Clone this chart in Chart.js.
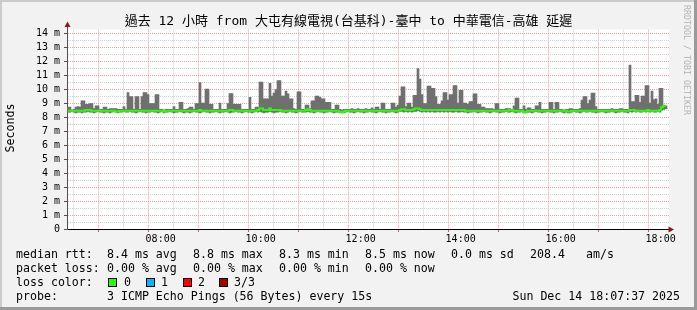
<!DOCTYPE html>
<html>
<head>
<meta charset="utf-8">
<script src="https://cdn.jsdelivr.net/npm/chart.js@4/dist/chart.umd.min.js"></script>
<style>
html,body{margin:0;padding:0;background:#f2f2f2;}
body{width:697px;height:310px;overflow:hidden;}
#frame{position:relative;width:697px;height:310px;background:#f2f2f2;overflow:hidden;}
#shadeT{position:absolute;left:0;top:0;width:697px;height:2px;background:#cbcbcb;}
#shadeL{position:absolute;left:0;top:0;width:2px;height:310px;background:#cbcbcb;}
#shadeR{position:absolute;right:0;top:0;width:3px;height:310px;background:#9a9a9a;}
#shadeB{position:absolute;left:0;bottom:0;width:697px;height:3px;background:#9a9a9a;}
canvas{position:absolute;left:0;top:0;}
.t{position:absolute;font-family:"DejaVu Sans Mono",monospace;font-size:11.6px;line-height:14px;white-space:pre;color:#000;}
#title{position:absolute;left:0;top:13px;width:697px;text-align:center;font-family:"DejaVu Sans Mono","Noto Sans CJK TC",monospace;font-size:13px;line-height:16px;white-space:pre;color:#000;}
#ylab{position:absolute;left:-20px;top:121px;width:60px;height:14px;text-align:center;transform:rotate(-90deg);font-family:"DejaVu Sans Mono",monospace;font-size:11.6px;line-height:14px;color:#000;}
#rrd{position:absolute;left:627px;top:55px;width:120px;height:10px;text-align:center;transform-origin:60px 5px;transform:rotate(90deg);font-family:"DejaVu Sans Mono",monospace;font-size:8.3px;line-height:10px;color:#b4b4b4;white-space:pre;}
.box{position:absolute;width:9px;height:9px;box-sizing:border-box;border:1px solid #000;}
</style>
</head>
<body>
<div id="frame">
<canvas id="c" width="697" height="310"></canvas>
<div id="title">過去 12 小時 from 大屯有線電視(台基科)-臺中 to 中華電信-高雄 延遲</div>
<div id="ylab">Seconds</div>
<div id="rrd">RRDTOOL / TOBI OETIKER</div>

<div class="t" style="left:16px;top:247px">median rtt:</div>
<div class="t" style="left:107px;top:247px">8.4 ms avg</div>
<div class="t" style="left:193px;top:247px">8.8 ms max</div>
<div class="t" style="left:279px;top:247px">8.3 ms min</div>
<div class="t" style="left:365px;top:247px">8.5 ms now</div>
<div class="t" style="left:451px;top:247px">0.0 ms sd</div>
<div class="t" style="left:530px;top:247px">208.4</div>
<div class="t" style="left:586px;top:247px">am/s</div>

<div class="t" style="left:16px;top:261px">packet loss:</div>
<div class="t" style="left:107px;top:261px">0.00 % avg</div>
<div class="t" style="left:193px;top:261px">0.00 % max</div>
<div class="t" style="left:279px;top:261px">0.00 % min</div>
<div class="t" style="left:365px;top:261px">0.00 % now</div>

<div class="t" style="left:16px;top:275px">loss color:</div>
<div class="box" style="left:108px;top:278px;background:#26ff00"></div>
<div class="t" style="left:124px;top:275px">0</div>
<div class="box" style="left:146px;top:278px;background:#00b8ff"></div>
<div class="t" style="left:161px;top:275px">1</div>
<div class="box" style="left:183px;top:278px;background:#ff0000"></div>
<div class="t" style="left:198px;top:275px">2</div>
<div class="box" style="left:219px;top:278px;background:#a00000"></div>
<div class="t" style="left:234px;top:275px">3/3</div>

<div class="t" style="left:16px;top:289px">probe:</div>
<div class="t" style="left:107px;top:289px">3 ICMP Echo Pings (56 Bytes) every 15s</div>
<div class="t" style="right:17px;top:289px;text-align:right">Sun Dec 14 18:07:37 2025</div>

<div id="shadeT"></div><div id="shadeL"></div><div id="shadeR"></div><div id="shadeB"></div>
</div>
<script>
// ---- data ----
const startLabel = "06:07:37";
const stepMinutes = 2.4;
const xTickLabels = ["08:00", "10:00", "12:00", "14:00", "16:00", "18:00"];
const yTickLabels = ["0", "1 m", "2 m", "3 m", "4 m", "5 m", "6 m", "7 m", "8 m", "9 m", "10 m", "11 m", "12 m", "13 m", "14 m"];

// smoke top (max rtt, ms)
const smokeMax = [
  8.7,8.7,8.5,8.55,8.7,8.75,8.7,9.15,9.15,8.9, 8.9,8.95,8.95,8.6,8.8,8.8,8.55,8.55,8.7,8.7, 8.55,8.6,8.6,8.6,8.6,8.55,8.55,8.55,8.75,8.55,
  9.75,9.45,9.45,8.55,9.45,9.45,8.55,9.45,9.75,9.75, 9.6,8.95,8.95,8.95,9.6,9.6,8.55,8.55,8.5,8.55, 8.55,8.55,8.55,8.75,8.55,8.55,9.05,9.05,8.55,8.55,
  8.6,8.7,8.7,8.55,8.95,8.95,10.45,9.0,9.0,10.0, 10.0,8.9,8.9,8.55,8.55,8.55,9.0,8.55,8.55,8.55, 8.95,9.67,9.67,8.9,8.9,8.9,8.9,8.55,8.55,8.55,
  8.55,9.4,8.55,8.55,8.7,8.7,10.5,10.5,9.3,9.3, 9.3,10.4,9.5,9.7,9.95,10.6,10.6,9.5,9.5,9.85, 9.65,9.3,9.3,8.6,8.55,9.8,9.8,8.55,8.55,8.85,
  8.85,8.6,9.15,9.15,9.5,9.5,9.4,9.3,9.3,9.05, 9.05,9.05,8.55,8.55,8.85,8.85,8.55,8.5,8.55,8.55, 8.55,8.55,8.6,8.55,8.55,8.6,8.55,8.55,8.55,8.6,
  8.55,8.55,8.65,8.55,8.7,8.7,8.55,9.0,9.0,8.55, 8.55,8.55,9.0,9.0,8.7,8.85,9.5,10.15,10.15,8.75, 9.0,9.0,8.7,9.55,9.55,11.45,10.7,9.6,8.95,8.95,
  10.2,10.2,10.05,10.05,9.45,8.9,8.9,9.15,9.75,9.75, 9.2,9.6,9.6,10.25,10.25,9.0,9.9,9.9,9.0,9.0, 8.9,9.1,9.1,9.65,9.65,8.9,8.9,8.7,8.7,8.6,
  8.6,8.6,8.6,8.55,8.95,8.95,8.55,8.55,8.55,8.6, 8.6,8.6,8.55,8.8,9.35,9.35,8.55,8.55,8.8,8.55, 8.65,8.65,8.55,8.55,8.8,8.8,9.05,8.55,8.55,8.55,
  8.55,9.05,9.05,8.55,9.05,9.05,8.55,8.55,8.5,8.55, 8.55,8.6,8.6,8.55,8.55,8.55,8.6,9.2,9.45,9.45, 8.95,9.2,9.7,9.7,8.75,8.55,8.55,8.55,8.55,8.55,
  8.55,8.55,8.6,8.55,8.55,8.55,8.6,8.6,8.55,8.55, 8.55,11.7,9.1,9.1,9.55,9.55,9.05,9.5,9.5,10.25, 10.25,9.0,9.85,9.25,9.3,8.9,10.05,10.05,8.75,8.8
];

// smoke bottom (min rtt, ms)
const smokeMin = [
  8.35,8.35,8.4,8.35,8.3,8.35,8.35,8.3,8.35,8.35, 8.4,8.35,8.35,8.3,8.35,8.4,8.35,8.35,8.3,8.35, 8.35,8.3,8.35,8.4,8.35,8.3,8.35,8.35,8.4,8.35,
  8.35,8.4,8.35,8.35,8.3,8.35,8.4,8.35,8.35,8.3, 8.35,8.35,8.4,8.35,8.35,8.3,8.35,8.4,8.3,8.35, 8.35,8.4,8.35,8.3,8.35,8.35,8.4,8.35,8.3,8.35,
  8.35,8.3,8.35,8.4,8.35,8.35,8.3,8.35,8.4,8.35, 8.35,8.3,8.35,8.35,8.4,8.35,8.3,8.35,8.35,8.4, 8.35,8.3,8.35,8.35,8.4,8.35,8.35,8.3,8.35,8.4,
  8.35,8.35,8.3,8.35,8.4,8.35,8.4,8.35,8.3,8.35, 8.35,8.4,8.35,8.3,8.35,8.35,8.4,8.35,8.35,8.3, 8.35,8.4,8.35,8.35,8.3,8.35,8.4,8.35,8.35,8.35,
  8.4,8.35,8.35,8.3,8.35,8.4,8.35,8.35,8.3,8.35, 8.35,8.4,8.35,8.3,8.35,8.35,8.3,8.3,8.3,8.35, 8.4,8.35,8.35,8.3,8.35,8.4,8.35,8.35,8.3,8.35,
  8.35,8.4,8.35,8.35,8.3,8.35,8.4,8.35,8.35,8.3, 8.35,8.35,8.4,8.35,8.3,8.35,8.4,8.4,8.35,8.4, 8.35,8.4,8.35,8.4,8.4,8.45,8.4,8.35,8.4,8.35,
  8.4,8.35,8.4,8.35,8.35,8.4,8.35,8.4,8.35,8.4, 8.35,8.4,8.35,8.35,8.4,8.35,8.35,8.4,8.35,8.35, 8.3,8.35,8.35,8.4,8.35,8.3,8.35,8.35,8.4,8.35,
  8.35,8.3,8.35,8.4,8.35,8.35,8.3,8.35,8.35,8.4, 8.35,8.35,8.4,8.35,8.3,8.35,8.35,8.4,8.3,8.3, 8.35,8.35,8.3,8.35,8.4,8.35,8.35,8.3,8.35,8.35,
  8.4,8.35,8.35,8.3,8.35,8.35,8.4,8.35,8.3,8.35, 8.3,8.3,8.35,8.4,8.35,8.35,8.3,8.35,8.4,8.35, 8.35,8.4,8.35,8.35,8.3,8.35,8.35,8.4,8.35,8.3,
  8.35,8.35,8.4,8.35,8.3,8.35,8.35,8.4,8.35,8.35, 8.3,8.4,8.35,8.4,8.35,8.4,8.35,8.35,8.4,8.35, 8.4,8.35,8.4,8.35,8.35,8.4,8.35,8.5,8.55,8.6
];

// median rtt (ms)
const medianRtt = [
  8.45,8.45,8.45,8.45,8.45,8.45,8.45,8.45,8.45,8.5, 8.5,8.5,8.45,8.45,8.45,8.45,8.45,8.45,8.45,8.45, 8.45,8.45,8.45,8.45,8.4,8.4,8.45,8.45,8.45,8.45,
  8.45,8.45,8.45,8.45,8.45,8.45,8.45,8.45,8.45,8.45, 8.45,8.45,8.45,8.45,8.45,8.45,8.45,8.45,8.4,8.45, 8.45,8.45,8.45,8.45,8.45,8.45,8.45,8.45,8.45,8.45,
  8.45,8.45,8.45,8.45,8.45,8.45,8.5,8.45,8.45,8.45, 8.45,8.45,8.45,8.45,8.45,8.45,8.45,8.45,8.45,8.45, 8.45,8.5,8.5,8.45,8.45,8.45,8.45,8.45,8.45,8.45,
  8.45,8.45,8.45,8.45,8.45,8.5,8.6,8.6,8.5,8.5, 8.5,8.6,8.5,8.5,8.5,8.5,8.5,8.45,8.45,8.45, 8.45,8.45,8.45,8.45,8.45,8.45,8.45,8.45,8.45,8.5,
  8.55,8.5,8.45,8.45,8.45,8.45,8.45,8.45,8.45,8.45, 8.45,8.45,8.45,8.45,8.45,8.45,8.35,8.35,8.4,8.45, 8.45,8.45,8.45,8.45,8.45,8.45,8.45,8.45,8.45,8.45,
  8.45,8.45,8.45,8.45,8.45,8.45,8.45,8.45,8.45,8.45, 8.45,8.45,8.45,8.45,8.45,8.45,8.5,8.55,8.55,8.5, 8.5,8.5,8.5,8.55,8.6,8.6,8.55,8.5,8.5,8.5,
  8.5,8.5,8.5,8.5,8.5,8.5,8.5,8.5,8.5,8.5, 8.5,8.5,8.5,8.5,8.5,8.5,8.5,8.5,8.5,8.45, 8.45,8.45,8.45,8.45,8.45,8.45,8.45,8.45,8.45,8.45,
  8.45,8.45,8.45,8.45,8.45,8.45,8.45,8.45,8.45,8.45, 8.45,8.5,8.5,8.45,8.45,8.45,8.45,8.45,8.35,8.35, 8.45,8.45,8.45,8.45,8.45,8.45,8.45,8.45,8.45,8.45,
  8.45,8.45,8.45,8.45,8.45,8.45,8.45,8.45,8.45,8.45, 8.4,8.4,8.45,8.45,8.45,8.45,8.45,8.45,8.45,8.45, 8.45,8.45,8.45,8.45,8.45,8.45,8.45,8.45,8.45,8.45,
  8.45,8.45,8.45,8.45,8.45,8.45,8.45,8.45,8.45,8.45, 8.45,8.5,8.5,8.5,8.45,8.45,8.45,8.45,8.45,8.45, 8.5,8.45,8.45,8.45,8.45,8.45,8.5,8.7,8.8,8.8
];

// ---- chart ----
const toHours = s => { const p = s.split(':').map(Number); return p[0] + p[1] / 60 + (p[2] || 0) / 3600; };
const t0 = toHours(startLabel);
const stepH = stepMinutes / 60;
const xMax = t0 + 12 + stepH;
const xs = smokeMax.map((_, i) => t0 + (i + 0.5) * stepH);
const labelHours = xTickLabels.map(toHours);
const gridHours = [];
for (let h = Math.ceil(t0 * 2) / 2; h <= xMax; h += 0.5) gridHours.push(h);
const gridVals = [];
for (let v = 0; v <= yTickLabels.length - 1; v += 0.5) gridVals.push(v);

const PINK = '#e6a3a3', GREY = '#d0d0d0';
const tickVal = c => (c && c.tick ? c.tick.value : 0);
const isWhole = v => Math.abs(v - Math.round(v)) < 1e-6;

const deco = {
  id: 'deco',
  beforeDraw(chart) {
    const { ctx, chartArea: a } = chart;
    ctx.save();
    ctx.fillStyle = '#ffffff';
    ctx.fillRect(a.left, a.top, a.right - a.left, a.bottom - a.top);
    ctx.restore();
  },
  afterDraw(chart) {
    const { ctx, chartArea: a } = chart;
    const xl = Math.round(a.left) + 0.5, yb = Math.round(a.bottom) + 0.5;
    ctx.save();
    ctx.strokeStyle = '#505050'; ctx.lineWidth = 1;
    ctx.beginPath(); ctx.moveTo(xl, a.top); ctx.lineTo(xl, a.top - 3); ctx.stroke();
    ctx.fillStyle = '#8a1a1a';
    ctx.beginPath(); ctx.moveTo(xl - 3, a.top - 2.5); ctx.lineTo(xl + 3, a.top - 2.5); ctx.lineTo(xl, a.top - 8); ctx.closePath(); ctx.fill();
    ctx.beginPath(); ctx.moveTo(a.right - 0.5, yb - 3); ctx.lineTo(a.right - 0.5, yb + 3); ctx.lineTo(a.right + 5, yb); ctx.closePath(); ctx.fill();
    ctx.restore();
  }
};

new Chart(document.getElementById('c'), {
  type: 'bar',
  data: {
    datasets: [
      {
        type: 'line', label: 'median', order: 1,
        data: xs.map((x, i) => ({ x, y: medianRtt[i] })),
        borderColor: '#26ff00', borderWidth: 2, pointRadius: 0, stepped: 'middle', fill: false
      },
      {
        type: 'bar', label: 'smoke', order: 2,
        data: xs.map((x, i) => ({ x, y: [smokeMin[i], smokeMax[i]] })),
        backgroundColor: '#707070', borderWidth: 0, barPercentage: 1, categoryPercentage: 1, grouped: false
      }
    ]
  },
  options: {
    responsive: false, animation: false, devicePixelRatio: 1,
    layout: { padding: { left: 0, right: 28, top: 29.5, bottom: 61 } },
    plugins: { legend: { display: false }, tooltip: { enabled: false }, title: { display: false } },
    scales: {
      x: {
        type: 'linear', min: t0, max: xMax, offset: false,
        afterBuildTicks: s => { s.ticks = gridHours.map(v => ({ value: v })); },
        afterFit: s => { s.height = 20; },
        grid: {
          color: c => (isWhole(tickVal(c)) ? PINK : GREY),
          lineWidth: 1, drawTicks: true, tickLength: 3, tickBorderDash: [],
          tickColor: c => (isWhole(tickVal(c)) ? '#c06060' : 'rgba(0,0,0,0)')
        },
        border: { display: true, color: '#000000', width: 1, dash: [1, 1] },
        ticks: {
          autoSkip: false, maxRotation: 0, padding: 1, color: '#000',
          font: { family: 'DejaVu Sans Mono', size: 10 },
          callback: v => { const k = labelHours.findIndex(h => Math.abs(h - v) < 1e-6); return k >= 0 ? xTickLabels[k] : ''; }
        }
      },
      y: {
        type: 'linear', min: 0, max: 14.25,
        afterBuildTicks: s => { s.ticks = gridVals.map(v => ({ value: v })); },
        afterFit: s => { s.width = 67; },
        grid: {
          color: c => (isWhole(tickVal(c)) ? PINK : GREY),
          lineWidth: 1, drawTicks: true, tickLength: 3, tickBorderDash: [],
          tickColor: c => (isWhole(tickVal(c)) ? '#505050' : 'rgba(0,0,0,0)')
        },
        border: { display: true, color: '#505050', width: 1, dash: [1, 1] },
        ticks: {
          autoSkip: false, padding: 4, color: '#000',
          font: { family: 'DejaVu Sans Mono', size: 10 },
          callback: v => (isWhole(v) ? yTickLabels[Math.round(v)] : '')
        }
      }
    }
  },
  plugins: [deco]
});
</script>
</body>
</html>
